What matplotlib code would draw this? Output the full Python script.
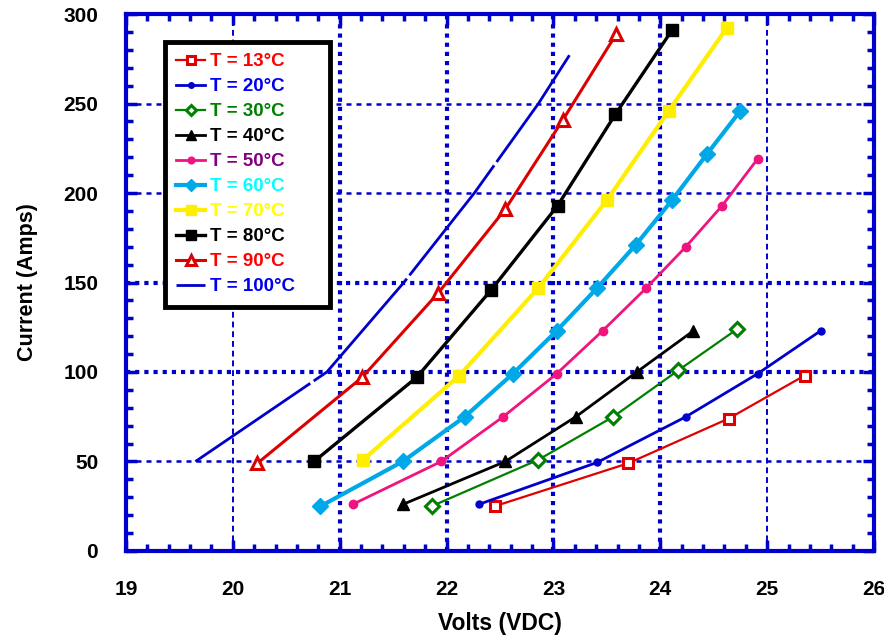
import matplotlib
matplotlib.use("Agg")
import matplotlib.pyplot as plt
from matplotlib.ticker import MultipleLocator

plt.rcParams['font.family'] = ['Liberation Sans', 'DejaVu Sans']
plt.rcParams['font.weight'] = 'bold'

# Volt / current readings per temperature
volts_13 = [22.45, 23.70, 24.64, 25.35]
amps_13 = [25, 49, 74, 98]

volts_20 = [22.30, 23.41, 24.24, 24.91, 25.50]
amps_20 = [26, 49.5, 75, 99, 123]

volts_30 = [21.86, 22.86, 23.56, 24.17, 24.72]
amps_30 = [25, 51, 75, 101, 124]

volts_40 = [21.59, 22.55, 23.21, 23.78, 24.31]
amps_40 = [26, 50, 75, 100, 123]

volts_50 = [21.12, 21.95, 22.53, 23.03, 23.46, 23.87, 24.24, 24.58, 24.91]
amps_50 = [26, 50, 75, 99, 123, 147, 170, 193, 219]

volts_60 = [20.82, 21.59, 22.17, 22.62, 23.03, 23.41, 23.77, 24.11, 24.44, 24.75]
amps_60 = [25, 50, 75, 99, 123, 147, 171, 196, 222, 246]

volts_70 = [21.22, 22.12, 22.86, 23.50, 24.08, 24.62]
amps_70 = [51, 98, 147, 196, 246, 292]

volts_80 = [20.76, 21.72, 22.42, 23.04, 23.58, 24.11]
amps_80 = [50, 97, 146, 193, 244, 291]

volts_90 = [20.23, 21.21, 21.92, 22.55, 23.09, 23.59]
amps_90 = [49, 97, 144, 191, 241, 289]

volts_100 = [19.65, 20.88, 21.60, 22.26, 22.86, 23.15]
amps_100 = [50, 100, 150, 200, 250, 277]

labels = ["T = 13°C", "T = 20°C", "T = 30°C", "T = 40°C", "T = 50°C",
          "T = 60°C", "T = 70°C", "T = 80°C", "T = 90°C", "T = 100°C"]
line_colors = ["#e00000", "#0000cc", "#008000", "#000000", "#f0147e",
               "#00a8e8", "#ffee00", "#000000", "#dd0000", "#0000cc"]
text_colors = ["#ff0000", "#0000ee", "#008000", "#000000", "#800080",
               "#00ffff", "#ffff00", "#000000", "#ff0000", "#0000ee"]

BLUE = "#0000cc"

fig = plt.figure(figsize=(8.84, 6.38), dpi=100)
ax = fig.add_axes([0.1425, 0.1364, 0.8462, 0.8416])

series = [
    (volts_13, amps_13, dict(marker='s', ms=7, mfc='white', mew=2.2, lw=1.6)),
    (volts_20, amps_20, dict(marker='o', ms=5, lw=2.0)),
    (volts_30, amps_30, dict(marker='D', ms=7, mfc='white', mew=2.2, lw=1.6)),
    (volts_40, amps_40, dict(marker='^', ms=9, lw=2.0)),
    (volts_50, amps_50, dict(marker='o', ms=6, lw=2.0)),
    (volts_60, amps_60, dict(marker='D', ms=8, lw=3.0)),
    (volts_70, amps_70, dict(marker='s', ms=9, lw=3.0)),
    (volts_80, amps_80, dict(marker='s', ms=9, lw=2.4)),
    (volts_90, amps_90, dict(marker='^', ms=9, mfc='white', mew=2.2, lw=2.2)),
    (volts_100, amps_100, dict(marker=None, lw=2.0, dashes=(50, 1.5))),
]

handles = []
for (vx, iy, style), lab, col in zip(series, labels, line_colors):
    h, = ax.plot(vx, iy, color=col, mec=col, label=lab, zorder=3, **style)
    handles.append(h)

ax.set_xlim(19, 26)
ax.set_ylim(0, 300)
ax.xaxis.set_major_locator(MultipleLocator(1))
ax.xaxis.set_minor_locator(MultipleLocator(0.2))
ax.yaxis.set_major_locator(MultipleLocator(50))
ax.yaxis.set_minor_locator(MultipleLocator(10))

for s in ax.spines.values():
    s.set_color(BLUE)
    s.set_linewidth(3.0)

ax.tick_params(which='both', direction='in', color=BLUE, top=True, right=True)
ax.tick_params(which='major', length=8, width=2.5, labelsize=15)
ax.tick_params(which='minor', length=5, width=2.5)
ax.tick_params(axis='x', which='major', pad=21)
ax.tick_params(axis='y', which='major', pad=20)

ax.grid(True, which='major', color=BLUE, zorder=1)
heavy_x = {21, 22, 23, 24}
heavy_y = {100, 150}
for val, gl in zip(ax.get_xticks(), ax.xaxis.get_gridlines()):
    if round(val) in heavy_x:
        gl.set_linewidth(3.0)
        gl.set_linestyle((0, (1, 1.2)))
    else:
        gl.set_linewidth(1.4)
        gl.set_linestyle((0, (3, 2)))
for val, gl in zip(ax.get_yticks(), ax.yaxis.get_gridlines()):
    if round(val) in heavy_y:
        gl.set_linewidth(3.0)
        gl.set_linestyle((0, (1, 1.2)))
    else:
        gl.set_linewidth(1.8)
        gl.set_linestyle((0, (2, 2)))
ax.set_axisbelow(True)

ax.set_xlabel("Volts (VDC)", fontsize=16.5, fontweight='bold', labelpad=9)
ax.set_ylabel("Current (Amps)", fontsize=15.5, fontweight='bold', labelpad=18)

leg = ax.legend(handles=handles, loc='upper left',
                bbox_to_anchor=(0.052, 0.458, 0.221, 0.49), mode='expand',
                borderaxespad=0, fancybox=False, framealpha=1, edgecolor='black',
                fontsize=13.5, handlelength=1.55, handletextpad=0.25, labelspacing=0.42,
                borderpad=0.6, markerscale=0.8)
leg.get_frame().set_linewidth(3.5)
for txt, c in zip(leg.get_texts(), text_colors):
    txt.set_color(c)
    txt.set_fontweight('bold')
leg.set_zorder(5)

fig.savefig("out.png", dpi=100)
